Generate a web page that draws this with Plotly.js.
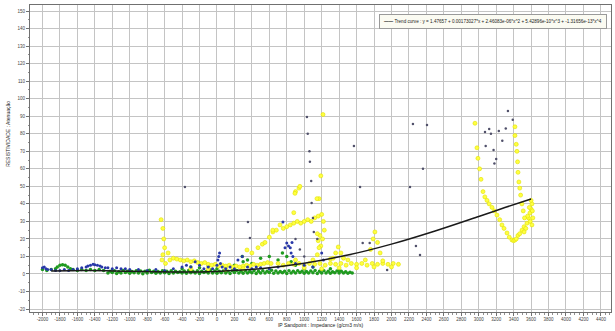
<!DOCTYPE html>
<html>
<head>
<meta charset="utf-8">
<script src="https://cdn.plot.ly/plotly-3.0.1.min.js"></script>
<style>html,body{margin:0;padding:0;background:#fff;}#chart{width:615px;height:331px;}</style>
</head>
<body>
<div id="chart"></div>
<script>
// ---- Data ----
var xTickVals = [-2000,-1800,-1600,-1400,-1200,-1000,-800,-600,-400,-200,0,200,400,600,800,1000,1200,1400,1600,1800,2000,2200,2400,2600,2800,3000,3200,3400,3600,3800,4000,4200,4400];
var yTickVals = [-20,-10,0,10,20,30,40,50,60,70,80,90,100,110,120,130,140,150];

var greenBandX1 = [-1250,-1200,-1150,-1100,-1050,-1000,-950,-900,-850,-800,-750,-700,-650,-600,-550,-500,-450,-400,-350,-300,-250,-200,-150,-100,-50,0,50,100,150,200,250,300,350,400,450,500,550,600,650,700,750,800,850,900,950,1000,1050,1100,1150,1200,1250,1300,1350,1400,1450,1500,1550];
var greenBandY1 = [0.5,0.8,0.3,0.6,0.9,0.4,0.7,0.5,0.2,0.6,0.8,0.4,0.5,0.7,0.3,0.6,0.9,0.5,0.4,0.7,0.6,0.3,0.8,0.5,0.6,0.4,0.7,0.5,0.3,0.8,0.6,0.4,0.5,0.7,0.3,0.6,0.5,0.8,0.4,0.6,0.7,0.3,0.5,0.6,0.8,0.4,0.5,0.7,0.3,0.6,0.5,0.4,0.7,0.5,0.6,0.4,0.5];
var greenBandX2 = [-1225,-1175,-1125,-1075,-1025,-975,-925,-875,-825,-775,-725,-675,-625,-575,-525,-475,-425,-375,-325,-275,-225,-175,-125,-75,-25,25,75,125,175,225,275,325,375,425,475,525,575,625,675,725,775,825,875,925,975,1025,1075,1125,1175,1225,1275,1325,1375,1425,1475,1525];
var greenBandY2 = [1.5,1.8,1.3,2.0,1.6,1.4,1.9,1.7,1.5,2.1,1.6,1.4,1.8,1.5,1.9,1.6,1.3,1.7,2.0,1.5,1.8,1.6,1.4,2.2,1.7,1.5,1.9,1.6,1.8,2.0,1.5,1.7,1.4,1.9,1.6,1.8,1.5,2.1,1.7,1.4,1.6,1.9,1.5,1.8,1.6,1.4,1.7,2.0,1.5,1.8,1.6,1.3,1.7,1.5,1.2,1.0];
var greenOtherX = [-2000,-1950,-1900,-1850,-1830,-1800,-1770,-1740,-1710,-1680,-1650,-1600,-1550,-1500,-1450,-1400,-1350,-1300,-400,-300,-200,-100,0,100,200,290,300,350,400,500,600,700,750,800,850,900,1000,1100,1200,1300,1400];
var greenOtherY = [2.5,2.0,2.5,3.0,4.0,5.0,5.2,5.0,4.0,3.0,2.5,2.0,2.5,2.0,2.5,2.0,2.5,2.0,3.0,4.0,3.5,4.5,3.0,4.0,5.0,10.0,7.0,8.0,6.0,9.0,10.0,8.0,12.0,10.0,7.0,5.0,3.0,4.0,2.5,3.0,2.0];

var blueX = [-2000,-1980,-1960,-1940,-1900,-1850,-1800,-1750,-1700,-1650,-1600,-1550,-1500,-1480,-1450,-1420,-1400,-1370,-1340,-1320,-1280,-1250,-1200,-1150,-1100,-1050,-1000,-900,-800,-700,-600,-500,-400,-350,-300,-250,-200,-150,-100,-50,0,10,20,30,40,60,100,150,200,240,290,350,400,450,500,600,700,756,780,800,820,840,860,850,870,900,1000,1100,1200,1220];
var blueY = [3.5,4.0,3.0,2.5,2.5,2.0,2.0,2.5,2.0,2.5,3.0,3.5,4.0,4.6,5.0,5.5,5.2,5.0,4.6,4.0,3.5,3.5,3.0,3.5,3.0,3.0,2.5,2.5,2.0,2.5,2.0,3.0,4.0,5.0,4.0,7.0,5.0,3.0,4.0,3.0,5.0,8.0,10.0,12.0,6.0,4.0,3.0,4.0,3.0,8.0,10.0,4.0,3.0,4.0,3.5,3.0,4.0,29.7,15.0,17.7,16.0,15.0,18.0,12.0,10.0,6.0,5.0,4.0,12.0,8.0];

var yellowX = [-640,-620,-610,-600,-620,-630,-590,-560,
  -540,-500,-460,-420,-380,-340,-300,-260,-220,-180,-140,-100,-60,-20,20,60,100,140,180,220,260,300,340,380,420,460,500,540,580,620,
  -300,-100,100,300,
  344,400,470,520,550,600,640,680,722,760,800,840,880,920,960,1000,1040,1080,1120,1160,1200,1220,1230,1210,1190,1180,
  700,760,820,880,940,1000,1060,1120,1180,1240,1300,1360,1420,1480,1540,1600,1660,1720,1780,1840,1900,1960,2020,2080,
  1000,1200,1400,1600,1800,2000,900,1100,1300,1500,1700,1900,
  1150,1160,1170,1150,1330,1360,1390,1420,1450,1760,1790,1810,1840,1870,
  940,900,880,1170,1190,1215,894,950,1146,640,
  2957,2980,2991,3010,3026,3049,3070,3095,3120,3152,3180,3209,3240,3266,3290,3324,3350,3381,3400,3415,3430,3450,3470,3496,3520,3553,3570,3587,3600,3610,3600,3580,3560,3590,3610,3620,3615,3540,3520,
  3415,3430,3438,3445,3450,3460,3470,3480,3495,3510,3525,3415];
var yellowY = [31,26,20,15,11,8,6,12,
  8,9,8.5,8,7.5,8,7,7.5,6.5,6,6.5,5.5,5,5.5,4.5,5,4.5,5,4,4.5,4,4.5,5,4.5,5.5,5,5.5,6,6.5,6,
  3,3,2.5,3,
  13.7,12,15,17,18,21,24,25,28,26,27,28,29,30,29,30,31,30,32,33,34,30,25,20,16,22,
  6,5,6,5.5,6,5,6,5.5,6,5,6,5.5,6,5,6,5.5,6,5,6,5.5,6,5.5,6,5.5,
  3.5,3,3.5,3.5,4,4,8,8,8.5,8,8,7.5,
  23,19,15,11,9,12,15.4,12,9,14,20,24,18,12,
  49,47,35,43,56,91,46,50,43,25,
  86,72,66,60,54,47,44,42,40,38,36,33.6,31,28,26,23.4,21,19.4,19,19.4,20,22,23,25,27,29,32,34.8,37,40,42,38,33,30,28,32,36,26,24,
  79,74,70,64,58,52.5,49,45,40,36,32,84];

var greyX = [-367,1031,1040,1060,1065,1080,1085,1100,1110,1570,1640,1670,1950,2246,2407,2361,2212,2280,2327,3072,3120,3140,3230,3310,3335,3390,3270,3080,3170,3200,3180,378,355,1750,900,950,1000,1150];
var greyY = [49.6,89.6,80,70,64,53,40.5,32,24,73,49.6,17.7,2.3,85.6,85,60,49.6,16,10.8,81,82.7,80,81.6,83,93,88,76,73,70.7,65.6,63,20.5,29.7,17.7,20,14,10,20];

var trendX = [-1900,-1500,-1000,-500,0,500,1000,1500,2000,2500,3000,3300,3600];
var trendY = [1.63,1.92,1.54,1.15,1.48,3.03,6.08,10.78,17.02,24.53,32.82,37.89,42.8];
var trendName = "Trend curve : y = 1.47657 + 0.00173027*x + 2.46083e-06*x^2 + 5.42896e-10*x^3 + -1.31656e-13*x^4";

var traces = [
  {x: greenBandX1.concat(greenBandX2, greenOtherX), y: greenBandY1.concat(greenBandY2, greenOtherY),
   type:'scatter', mode:'markers', showlegend:false,
   marker:{color:'#1f9a1f', size:3.5, line:{width:0}}},
  {x: yellowX, y: yellowY, type:'scatter', mode:'markers', showlegend:false,
   marker:{color:'#ffff40', size:4, line:{color:'#e0e000', width:0.6}}},
  {x: blueX, y: blueY, type:'scatter', mode:'markers', showlegend:false,
   marker:{color:'#2838a8', size:3, line:{width:0}}},
  {x: greyX, y: greyY, type:'scatter', mode:'markers', showlegend:false,
   marker:{color:'#50506a', size:2.5, line:{width:0}}},
  {x: trendX, y: trendY, type:'scatter', mode:'lines', name: trendName, showlegend:false,
   line:{color:'#1a1a1a', width:1.5, shape:'spline'}}
];

var layout = {
  width:615, height:331,
  margin:{l:30, r:4, t:5, b:19},
  paper_bgcolor:'#ffffff', plot_bgcolor:'#ffffff',
  font:{family:'Arial, Liberation Sans, sans-serif', size:5, color:'#333'},
  showlegend:false,
  xaxis:{range:[-2143,4516], tickmode:'array', tickvals:xTickVals, ticktext:xTickVals.map(String),
         showgrid:true, gridcolor:'#c4c4c4', gridwidth:1, zeroline:false,
         showline:true, linecolor:'#707070', linewidth:1, mirror:true,
         ticks:'outside', ticklen:3, tickcolor:'#707070', tickfont:{size:4.5, color:'#444'},
         minor:{ticks:'outside', ticklen:1.5, dtick:50, tick0:0, tickcolor:'#909090', showgrid:false},
         title:{text:'IP Sandpoint : Impedance (g/cm3 m/s)', font:{size:5, color:'#222'}, standoff:2}},
  yaxis:{range:[-21.7,153.5], tickmode:'array', tickvals:yTickVals, ticktext:yTickVals.map(String),
         showgrid:true, gridcolor:'#c4c4c4', gridwidth:1, zeroline:false,
         showline:true, linecolor:'#707070', linewidth:1, mirror:true,
         ticks:'outside', ticklen:3, tickcolor:'#707070', tickfont:{size:4.5, color:'#444'},
         minor:{ticks:'outside', ticklen:1.5, dtick:5, tickcolor:'#909090', showgrid:false}},
  annotations:[
    {xref:'paper', yref:'paper', x:-0.038, y:0.58, xanchor:'center', yanchor:'middle',
     text:'RESISTIVIDADE : Atenuação', textangle:-90, showarrow:false,
     font:{size:5, color:'#222'}},
    {xref:'paper', yref:'paper', x:0.993, y:0.972, xanchor:'right', yanchor:'top',
     text:'<b>——</b> ' + trendName, showarrow:false, align:'left',
     bgcolor:'#fbfbf2', bordercolor:'#9a9a9a', borderwidth:1, borderpad:4,
     font:{size:4.6, color:'#222'}}
  ]
};

Plotly.newPlot('chart', traces, layout, {displayModeBar:false, responsive:false});
</script>
</body>
</html>
